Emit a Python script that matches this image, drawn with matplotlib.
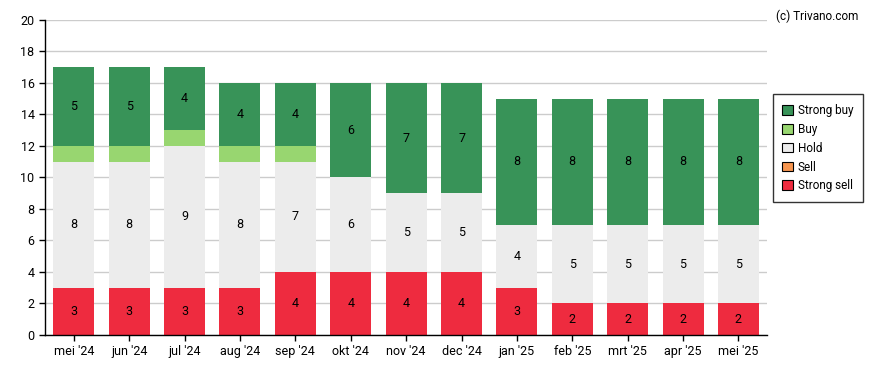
import numpy as np
import matplotlib
matplotlib.use('Agg')
import matplotlib.pyplot as plt

plt.rcParams['font.family'] = ['Roboto', 'DejaVu Sans']

months = ["mei '24", "jun '24", "jul '24", "aug '24", "sep '24", "okt '24", "nov '24",
          "dec '24", "jan '25", "feb '25", "mrt '25", "apr '25", "mei '25"]
strongSell = [3, 3, 3, 3, 4, 4, 4, 4, 3, 2, 2, 2, 2]
sell = [0, 0, 0, 0, 0, 0, 0, 0, 0, 0, 0, 0, 0]
hold = [8, 8, 9, 8, 7, 6, 5, 5, 4, 5, 5, 5, 5]
buy = [1, 1, 1, 1, 1, 0, 0, 0, 0, 0, 0, 0, 0]
strongBuy = [5, 5, 4, 4, 4, 6, 7, 7, 8, 8, 8, 8, 8]

series = [('Strong sell', strongSell, '#ee2b3f'),
          ('Sell', sell, '#f79650'),
          ('Hold', hold, '#ececec'),
          ('Buy', buy, '#98d670'),
          ('Strong buy', strongBuy, '#389358')]

fig = plt.figure(figsize=(8.88, 3.70), dpi=100)
ax = fig.add_axes([0.0507, 0.0946, 0.8133, 0.8514])

x = np.arange(len(months))
bottom = np.zeros(len(months))
handles = {}
for name, vals, col in series:
    vals = np.array(vals, dtype=float)
    bars = ax.bar(x, vals, 0.74, bottom=bottom, color=col, zorder=2)
    handles[name] = bars
    for xi, b, v in zip(x, bottom, vals):
        if v >= 2:
            ax.text(xi, b + v / 2.0, '%d' % v, ha='center', va='center', fontsize=9, zorder=3)
    bottom += vals

ax.set_xlim(-0.52, len(months) - 0.48)
ax.set_ylim(0, 20)
ax.set_yticks(range(0, 21, 2))
ax.set_xticks(x)
ax.set_xticklabels(months)
ax.grid(axis='y', color='#cccccc', linewidth=1, zorder=0)
ax.set_axisbelow(True)
for s in ['top', 'right']:
    ax.spines[s].set_visible(False)
ax.spines['left'].set_linewidth(1)
ax.spines['bottom'].set_linewidth(1)
ax.tick_params(axis='both', labelsize=9, length=4, width=1)

order = ['Strong buy', 'Buy', 'Hold', 'Sell', 'Strong sell']
leg = ax.legend([handles[n] for n in order], order, loc='upper left',
                bbox_to_anchor=(1.003, 0.775), fontsize=8.5, frameon=True,
                fancybox=False, handlelength=0.9, handleheight=0.9,
                handletextpad=0.4, borderpad=0.8, labelspacing=0.5,
                borderaxespad=0.3)
leg.get_frame().set_edgecolor('black')
leg.get_frame().set_linewidth(1)
for h in leg.legend_handles:
    h.set_edgecolor('black')
    h.set_linewidth(0.8)

fig.text(0.967, 0.975, '(c) Trivano.com', ha='right', va='top', fontsize=8.5)

fig.savefig('out.png', dpi=100)
